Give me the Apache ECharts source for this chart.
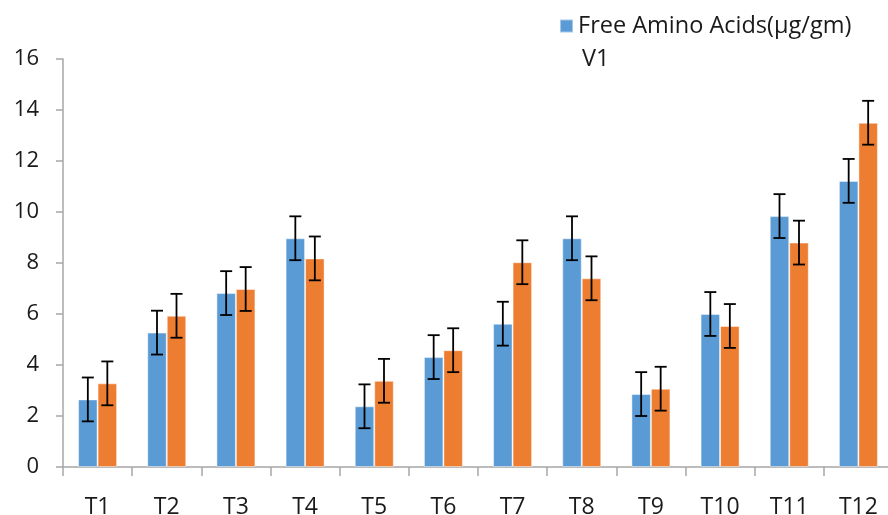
<!DOCTYPE html>
<html>
<head>
<meta charset="utf-8">
<script src="https://cdn.jsdelivr.net/npm/echarts@6/dist/echarts.min.js"></script>
<style>
  html, body { margin: 0; padding: 0; background: #fff; }
  #chart { width: 888px; height: 515px; }
</style>
</head>
<body>
<div id="chart"></div>
<script>
// Treatments and mean values for the two varieties
const categories = ['T1', 'T2', 'T3', 'T4', 'T5', 'T6', 'T7', 'T8', 'T9', 'T10', 'T11', 'T12'];
const v1Values = [2.65, 5.27, 6.82, 8.97, 2.38, 4.31, 5.62, 8.97, 2.86, 6.00, 9.84, 11.22];
const v2Values = [3.28, 5.93, 6.98, 8.18, 3.38, 4.58, 8.03, 7.40, 3.07, 5.53, 8.80, 13.50];
// Error bar half-widths
const v1Errors = [0.86, 0.86, 0.86, 0.86, 0.86, 0.86, 0.86, 0.86, 0.86, 0.86, 0.86, 0.86];
const v2Errors = [0.86, 0.86, 0.86, 0.86, 0.86, 0.86, 0.86, 0.86, 0.86, 0.86, 0.86, 0.86];
const yTicks = { min: 0, max: 16, interval: 2 };

const legendTitle = 'Free Amino Acids(µg/gm)';
const v1Name = legendTitle + ' V1';
const v2Name = 'V2';

const BAR_W = 19.5;
const FONT = '"Open Sans", Lato, sans-serif';
const TEXT_COLOR = '#1a1a1a';
const AXIS_COLOR = '#a6a6a6';
const LEGEND_FONT_SIZE = 23.5;

function errorSeries(values, errors, offset) {
  return {
    type: 'custom',
    silent: true,
    z: 10,
    data: values.map((v, i) => [i, v, errors[i]]),
    renderItem: function (params, api) {
      const i = api.value(0);
      const v = api.value(1);
      const e = api.value(2);
      const top = api.coord([i, v + e]);
      const bot = api.coord([i, v - e]);
      const x = top[0] + offset;
      const cap = 6;
      const style = { stroke: '#000', lineWidth: 1.8 };
      return {
        type: 'group',
        children: [
          { type: 'line', shape: { x1: x, y1: top[1], x2: x, y2: bot[1] }, style: style },
          { type: 'line', shape: { x1: x - cap, y1: top[1], x2: x + cap, y2: top[1] }, style: style },
          { type: 'line', shape: { x1: x - cap, y1: bot[1], x2: x + cap, y2: bot[1] }, style: style }
        ]
      };
    }
  };
}

const chart = echarts.init(document.getElementById('chart'), null, { renderer: 'canvas' });
chart.setOption({
  animation: false,
  backgroundColor: '#fff',
  textStyle: { fontFamily: FONT },
  legend: {
    data: [v1Name],
    formatter: function () { return legendTitle; },
    left: 559,
    top: 11,
    padding: 0,
    icon: 'rect',
    itemWidth: 13,
    itemHeight: 13,
    textStyle: {
      fontFamily: FONT,
      fontSize: LEGEND_FONT_SIZE,
      color: TEXT_COLOR,
      lineHeight: 30
    }
  },
  // second line of the wrapped legend label
  graphic: [{
    type: 'text',
    x: 582,
    y: 59,
    style: {
      text: 'V1',
      fill: TEXT_COLOR,
      font: LEGEND_FONT_SIZE + 'px ' + FONT,
      verticalAlign: 'middle'
    }
  }],
  grid: {
    left: 63, right: -5, top: 59, bottom: 48,
    containLabel: false,
    outerBoundsMode: 'none'
  },
  xAxis: {
    type: 'category',
    data: categories,
    axisLine: { lineStyle: { color: AXIS_COLOR, width: 1.5 } },
    axisTick: { show: true, length: 9, lineStyle: { color: AXIS_COLOR, width: 1.5 } },
    axisLabel: { color: TEXT_COLOR, fontSize: 23, fontFamily: FONT, margin: 29 },
    splitLine: { show: false }
  },
  yAxis: {
    type: 'value',
    min: yTicks.min,
    max: yTicks.max,
    interval: yTicks.interval,
    axisLine: { show: true, lineStyle: { color: AXIS_COLOR, width: 1.5 } },
    axisTick: { show: true, length: 7, lineStyle: { color: AXIS_COLOR, width: 1.5 } },
    axisLabel: { color: TEXT_COLOR, fontSize: 22, fontFamily: FONT, margin: 24 },
    splitLine: { show: false }
  },
  series: [
    {
      name: v1Name,
      type: 'bar',
      data: v1Values,
      barWidth: BAR_W,
      barGap: '0%',
      itemStyle: { color: '#5B9BD5', borderColor: 'rgba(255,255,255,0.45)', borderWidth: 1 }
    },
    {
      name: v2Name,
      type: 'bar',
      data: v2Values,
      barWidth: BAR_W,
      barGap: '0%',
      itemStyle: { color: '#ED7D31', borderColor: 'rgba(255,255,255,0.45)', borderWidth: 1 }
    },
    errorSeries(v1Values, v1Errors, -BAR_W / 2),
    errorSeries(v2Values, v2Errors, BAR_W / 2)
  ]
});
</script>
</body>
</html>
